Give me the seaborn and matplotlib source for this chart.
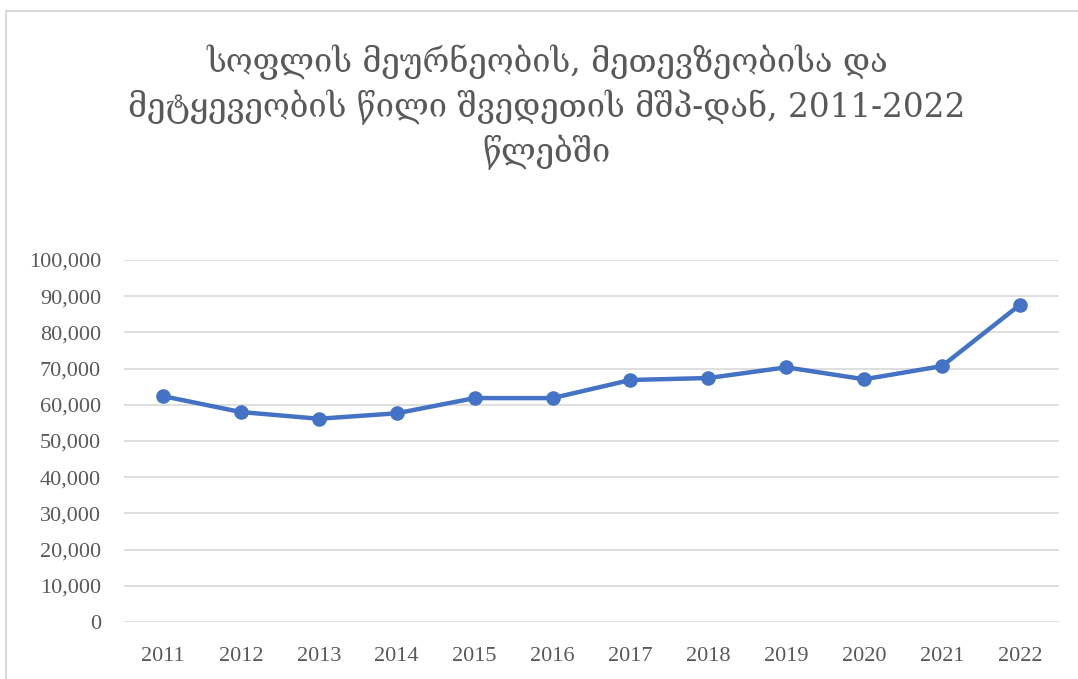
import matplotlib
matplotlib.use("Agg")
import matplotlib.pyplot as plt
import seaborn as sns
import pandas as pd
from matplotlib.ticker import FuncFormatter
from matplotlib.lines import Line2D

years = [2011, 2012, 2013, 2014, 2015, 2016, 2017, 2018, 2019, 2020, 2021, 2022]
values = [62400, 58000, 56150, 57650, 61850, 61850, 66850, 67400, 70350, 67050, 70700, 87650]
yticks = [0, 10000, 20000, 30000, 40000, 50000, 60000, 70000, 80000, 90000, 100000]
title = "სოფლის მეურნეობის, მეთევზეობისა და\nმეტყევეობის წილი შვედეთის მშპ-დან, 2011-2022\nწლებში"

sns.set_theme(style="white")
plt.rcParams['font.family'] = ['DejaVu Serif', 'DejaVu Sans']

df = pd.DataFrame({"year": years, "value": values})

fig = plt.figure(figsize=(10.78, 6.79), dpi=100)
ax = fig.add_axes([124/1078, 1-622/679, (1059-124)/1078, (622-260)/679])

sns.lineplot(data=df, x="year", y="value", ax=ax, color="#4472C4", linewidth=3.2,
             marker="o", markersize=10.5, markeredgewidth=0, zorder=3)

ax.set_xlim(2010.5, 2022.5)
ax.set_ylim(0, 100000)
ax.set_yticks(yticks)
ax.set_xticks(years)
ax.yaxis.set_major_formatter(FuncFormatter(lambda v, p: f"{int(v):,}"))
ax.grid(axis="y", color="#D9D9D9", linewidth=1.2)
ax.grid(axis="x", visible=False)
for s in ax.spines.values():
    s.set_visible(False)
ax.set_xlabel("")
ax.set_ylabel("")
ax.tick_params(axis="both", length=0, colors="#595959")
ax.tick_params(axis="y", pad=16.5)
ax.tick_params(axis="x", pad=18)
for lab in ax.get_xticklabels() + ax.get_yticklabels():
    lab.set_fontfamily(['Liberation Serif', 'DejaVu Serif'])
    lab.set_fontsize(16)

fig.text(547/1078, 1-107/679, title, ha="center", va="center", fontsize=23.5,
         color="#595959", linespacing=1.35, family=['DejaVu Serif', 'DejaVu Sans'])

fig.add_artist(Line2D([5.5/1078, 5.5/1078], [0, 1-10.5/679], transform=fig.transFigure,
                      color="#D9D9D9", linewidth=1.5))
fig.add_artist(Line2D([5.5/1078, 1], [1-10.5/679, 1-10.5/679], transform=fig.transFigure,
                      color="#D9D9D9", linewidth=1.5))

fig.savefig("out.png", dpi=100)
